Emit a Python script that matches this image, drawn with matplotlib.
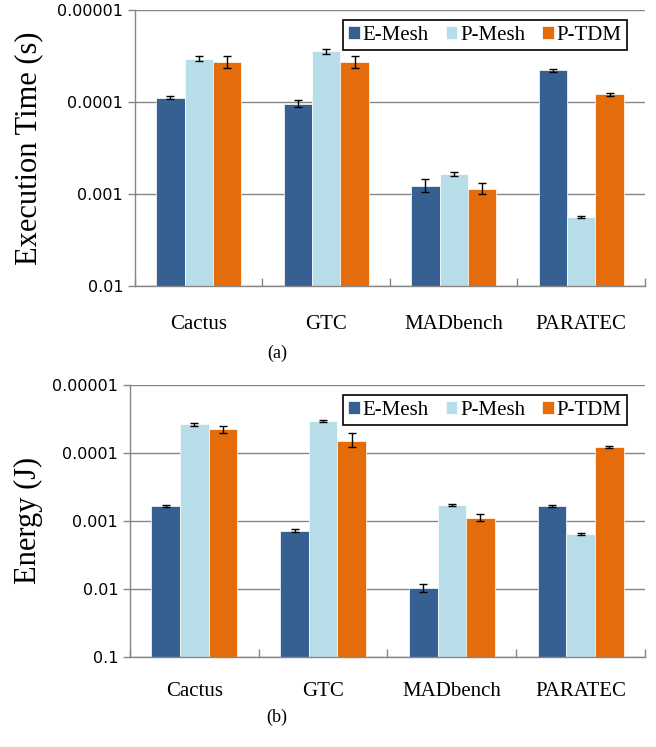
import numpy as np
import matplotlib
matplotlib.use('Agg')
import matplotlib.pyplot as plt
from matplotlib.ticker import FixedLocator, NullLocator

apps = ['Cactus', 'GTC', 'MADbench', 'PARATEC']
series = ['E-Mesh', 'P-Mesh', 'P-TDM']
colors = ['#376092', '#B7DEE8', '#E46C0A']

# (a) execution time (s)
time_e_mesh = [8.98e-5, 1.04e-4, 8.18e-4, 4.53e-5]
time_p_mesh = [3.38e-5, 2.81e-5, 6.0e-4, 1.77e-3]
time_p_tdm = [3.7e-5, 3.7e-5, 8.82e-4, 8.26e-5]
time_err_e_mesh = [3.8e-6, 8e-6, 1.3e-4, 1.7e-6]
time_err_p_mesh = [2.3e-6, 1.8e-6, 3e-5, 5.8e-5]
time_err_p_tdm = [5.5e-6, 5.5e-6, 1.2e-4, 2.7e-6]

# (b) energy (J)
energy_e_mesh = [5.97e-4, 1.39e-3, 9.84e-3, 5.97e-4]
energy_p_mesh = [3.78e-5, 3.38e-5, 5.83e-4, 1.56e-3]
energy_p_tdm = [4.48e-5, 6.59e-5, 8.97e-4, 8.24e-5]
energy_err_e_mesh = [2e-5, 8e-5, 1.3e-3, 2e-5]
energy_err_p_mesh = [1.7e-6, 1.2e-6, 2e-5, 3.7e-5]
energy_err_p_tdm = [5.3e-6, 1.5e-5, 1.05e-4, 2e-6]

time_ticks = [1e-5, 1e-4, 1e-3, 1e-2]
time_ticklabels = ['0.00001', '0.0001', '0.001', '0.01']
energy_ticks = [1e-5, 1e-4, 1e-3, 1e-2, 1e-1]
energy_ticklabels = ['0.00001', '0.0001', '0.001', '0.01', '0.1']

serif = ['Liberation Serif', 'DejaVu Serif']


def draw_panel(ax, vals, errs, base, ticks, ticklabels, ylabel, xpad):
    x = np.arange(len(apps))
    w = 0.667 / 3
    for i, (v, e) in enumerate(zip(vals, errs)):
        v = np.array(v)
        pos = x + (i - 1) * w
        ax.bar(pos, v - base, bottom=base, width=w, color=colors[i],
               edgecolor='white', linewidth=0.5, label=series[i], zorder=2)
        ax.errorbar(pos, v, yerr=e, fmt='none', ecolor='black',
                    elinewidth=1.0, capsize=3, capthick=1.0, zorder=3)
    ax.set_yscale('log')
    ax.set_ylim(base, 1e-5)
    ax.set_xlim(-0.5, len(apps) - 0.5)
    ax.yaxis.set_major_locator(FixedLocator(ticks))
    ax.yaxis.set_minor_locator(NullLocator())
    ax.set_yticklabels(ticklabels, fontsize=11.5, fontfamily='DejaVu Sans')
    ax.tick_params(axis='y', length=5, color='#868686', width=1)
    ax.set_xticks(np.arange(len(apps) + 1) - 0.5)
    ax.set_xticklabels([])
    ax.set_xticks(x, minor=True)
    ax.set_xticklabels(apps, minor=True, fontsize=15, fontfamily=serif)
    ax.tick_params(axis='x', which='major', direction='in', length=6,
                   color='#868686', width=1)
    ax.tick_params(axis='x', which='minor', length=0, pad=xpad)
    ax.grid(axis='y', color='#868686', linewidth=1, zorder=0)
    ax.set_axisbelow(True)
    for s in ['top', 'right']:
        ax.spines[s].set_visible(False)
    for s in ['left', 'bottom']:
        ax.spines[s].set_color('#868686')
        ax.spines[s].set_linewidth(1)
    ax.set_ylabel(ylabel, fontsize=22, fontfamily=serif)
    leg = ax.legend(loc='upper right', ncol=3,
                    prop={'family': serif, 'size': 15},
                    handlelength=0.55, handleheight=0.55, handletextpad=0.15,
                    columnspacing=0.8, borderpad=0.25, fancybox=False,
                    framealpha=1, edgecolor='black',
                    bbox_to_anchor=(0.985, 1.0))
    leg.get_frame().set_linewidth(1.2)


fig = plt.figure(figsize=(6.56, 7.47), dpi=100)
ax1 = fig.add_axes([0.2058, 0.6171, 0.7774, 0.3695])
ax2 = fig.add_axes([0.1982, 0.1209, 0.785, 0.3637])

draw_panel(ax1, [time_e_mesh, time_p_mesh, time_p_tdm],
           [time_err_e_mesh, time_err_p_mesh, time_err_p_tdm],
           1e-2, time_ticks, time_ticklabels, 'Execution Time (s)', 21)
draw_panel(ax2, [energy_e_mesh, energy_p_mesh, energy_p_tdm],
           [energy_err_e_mesh, energy_err_p_mesh, energy_err_p_tdm],
           1e-1, energy_ticks, energy_ticklabels, 'Energy (J)', 18)

ax1.yaxis.set_label_coords(-0.18, 0.5)
ax2.yaxis.set_label_coords(-0.169, 0.5)

fig.text(0.422, 0.527, '(a)', ha='center', va='center', fontsize=13,
         fontfamily=serif)
fig.text(0.422, 0.040, '(b)', ha='center', va='center', fontsize=13,
         fontfamily=serif)

fig.savefig('out.png', dpi=100)
